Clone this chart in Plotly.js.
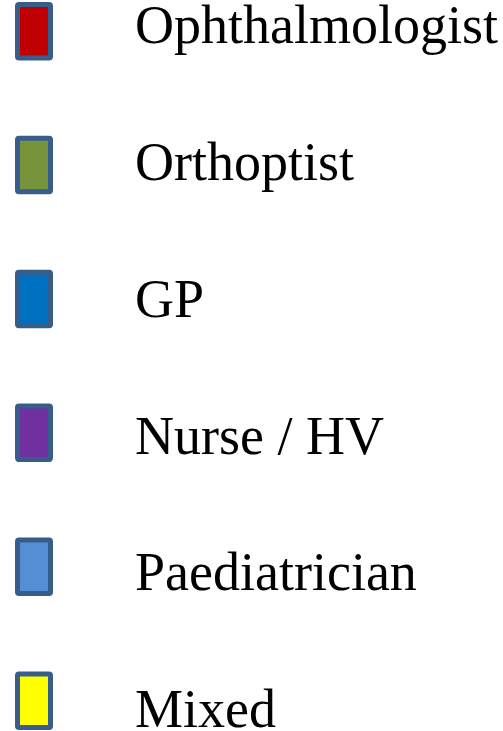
<!DOCTYPE html>
<html>
<head>
<meta charset="utf-8">
<script src="https://cdn.plot.ly/plotly-3.0.1.min.js"></script>
<style>
  html, body { margin: 0; padding: 0; background: #ffffff; }
  #chart { width: 503px; height: 731px; }
</style>
</head>
<body>
<div id="chart"></div>
<script>
// Legend categories (top to bottom)
const categories = ["Ophthalmologist", "Orthoptist", "GP", "Nurse / HV", "Paediatrician", "Mixed"];
// Swatch fill colours
const swatchColors = ["#C00000", "#77933C", "#0070C0", "#7030A0", "#558ED5", "#FFFF00"];
// Swatch lengths (unit swatches)
const swatchValues = [1, 1, 1, 1, 1, 1];

const W = 503, H = 731;
// Pixel geometry of the layout
const pxPerUnitX = 33;            // swatch inner width in px
const x0px = 17.5;                // swatch left edge (path) in px
const swatchPitch = 133.9;        // px between swatch rows
const firstSwatchCenter = 31.15;  // px
const swatchHeightPx = 53.5;
const labelPitch = 136.77;        // px between label rows
const fontSize = 54;
const firstBaseline = 43.24;      // px
const labelLeftPx = 135;

const xr0 = -x0px / pxPerUnitX;
const xr1 = xr0 + W / pxPerUnitX;
const yTop = -firstSwatchCenter / swatchPitch;
const yBottom = yTop + H / swatchPitch;
const firstLabelCenter = firstBaseline - 0.25 * fontSize;
const y2Top = -firstLabelCenter / labelPitch;
const y2Bottom = y2Top + H / labelPitch;
const labelX = xr0 + labelLeftPx / pxPerUnitX;

const swatches = {
  type: "bar",
  orientation: "h",
  y: categories,
  x: swatchValues,
  base: 0,
  width: swatchHeightPx / swatchPitch,
  marker: {
    color: swatchColors,
    line: { color: "#385D8A", width: 5 },
    cornerradius: 2
  },
  cliponaxis: false,
  hoverinfo: "skip",
  showlegend: false
};

const labels = {
  type: "scatter",
  mode: "text",
  yaxis: "y2",
  y: categories,
  x: categories.map(() => labelX),
  text: categories,
  textposition: "middle right",
  textfont: { family: "Liberation Serif, Times New Roman, serif", size: fontSize, color: "#000000" },
  hoverinfo: "skip",
  showlegend: false,
  cliponaxis: false
};

const layout = {
  width: W,
  height: H,
  margin: { l: 0, r: 0, t: 0, b: 0, pad: 0 },
  paper_bgcolor: "#ffffff",
  plot_bgcolor: "#ffffff",
  showlegend: false,
  xaxis: { range: [xr0, xr1], visible: false, fixedrange: true },
  yaxis: { type: "category", categoryorder: "array", categoryarray: categories,
           range: [yBottom, yTop], visible: false, fixedrange: true },
  yaxis2: { type: "category", categoryorder: "array", categoryarray: categories,
            overlaying: "y", range: [y2Bottom, y2Top], visible: false, fixedrange: true },
  bargap: 0
};

Plotly.newPlot("chart", [swatches, labels], layout, { displayModeBar: false, staticPlot: true });
</script>
</body>
</html>
